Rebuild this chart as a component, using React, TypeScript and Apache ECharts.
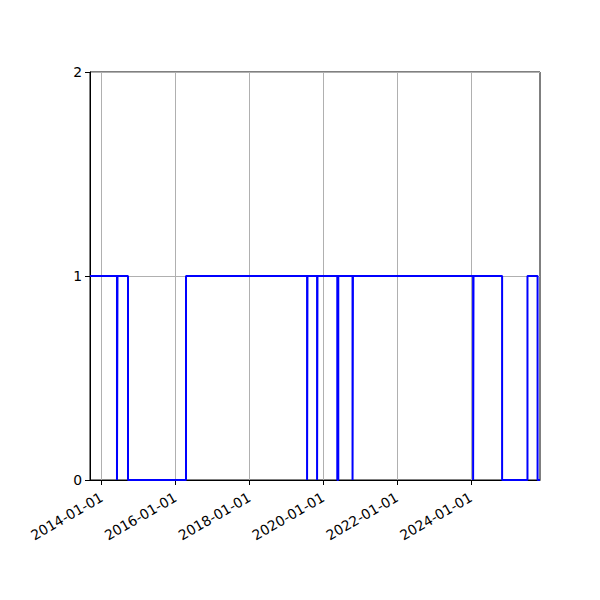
import React, { useEffect, useRef } from "react";
import * as echarts from "echarts";

// Change points: value holds from each date until the next one
const changeDates = [
  "2013-09-07",
  "2014-06-01", "2014-06-06",
  "2014-09-18",
  "2016-04-14",
  "2019-07-26", "2019-07-30",
  "2019-11-02", "2019-11-06",
  "2020-05-20", "2020-05-30",
  "2020-10-18", "2020-10-22",
  "2024-01-24", "2024-01-28",
  "2024-11-06",
  "2025-07-15",
  "2025-10-23",
  "2025-11-16",
];
const changeValues = [1, 0, 1, 0, 1, 0, 1, 0, 1, 0, 1, 0, 1, 0, 1, 0, 1, 0, 0];

const xMinDate = "2013-09-07";
const xMaxDate = "2025-11-16";
const xTickDates = ["2014-01-01", "2016-01-01", "2018-01-01", "2020-01-01", "2022-01-01", "2024-01-01"];
const yTicks = [0, 1, 2];

const toTs = (s: string) => {
  const [y, m, d] = s.split("-").map(Number);
  return new Date(y, m - 1, d).getTime();
};
const pad = (n: number) => (n < 10 ? "0" + n : "" + n);
const fmt = (v: number) => {
  const d = new Date(v);
  return d.getFullYear() + "-" + pad(d.getMonth() + 1) + "-" + pad(d.getDate());
};

export default function App() {
  const ref = useRef<HTMLDivElement>(null);
  useEffect(() => {
    if (!ref.current) return;
    const chart = echarts.init(ref.current, undefined, { renderer: "svg" });
    const tickVals = xTickDates.map(toTs);
    const font = "DejaVu Sans";
    chart.setOption({
      animation: false,
      backgroundColor: "#ffffff",
      grid: {
        left: 90,
        right: 60,
        top: 72,
        bottom: 120,
        show: true,
        borderColor: "#000000",
        borderWidth: 1,
        backgroundColor: "transparent",
      },
      xAxis: {
        type: "value",
        min: toTs(xMinDate),
        max: toTs(xMaxDate),
        axisLine: { show: true, lineStyle: { color: "#000", width: 1 } },
        axisTick: {
          show: true,
          length: 5,
          inside: false,
          customValues: tickVals,
          lineStyle: { color: "#000", width: 1 },
        },
        axisLabel: {
          customValues: tickVals,
          rotate: 30,
          margin: 16,
          color: "#000",
          fontFamily: font,
          fontSize: 13.9,
          formatter: (v: number) => fmt(v),
        },
        splitLine: { show: true, lineStyle: { color: "#b0b0b0", width: 1 } },
      },
      yAxis: {
        type: "value",
        min: 0,
        max: 2,
        interval: 1,
        axisLine: { show: true, lineStyle: { color: "#000", width: 1 } },
        axisTick: { show: true, length: 5, inside: false, lineStyle: { color: "#000", width: 1 } },
        axisLabel: {
          margin: 8,
          color: "#000",
          fontFamily: font,
          fontSize: 13.9,
          formatter: (v: number) => (yTicks.includes(v) ? String(v) : ""),
        },
        splitLine: { show: true, lineStyle: { color: "#b0b0b0", width: 1 } },
      },
      series: [
        {
          type: "line",
          step: "end",
          data: changeDates.map((d, i) => [toTs(d), changeValues[i]]),
          showSymbol: false,
          clip: false,
          lineStyle: { color: "#0000ff", width: 2 },
          itemStyle: { color: "#0000ff" },
        },
      ],
    });
    return () => chart.dispose();
  }, []);
  return (
    <div
      ref={ref}
      style={{ position: "fixed", left: 0, top: 0, width: 600, height: 600, background: "#fff" }}
    />
  );
}
